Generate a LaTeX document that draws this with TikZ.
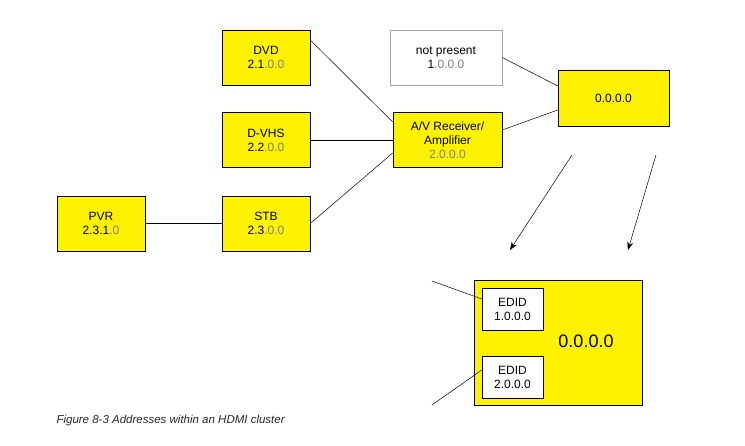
\documentclass[tikz,border=0pt]{standalone}
\usepackage{fontspec}
\setmainfont{Liberation Sans}
\usetikzlibrary{arrows.meta}
\begin{document}
\begin{tikzpicture}[x=1pt,y=-1pt,
  bx/.style={draw=black,fill=yellow,line width=0.6pt,minimum width=88pt,minimum height=55pt,align=center,font=\fontsize{12}{14}\selectfont,inner sep=0pt},
  wb/.style={draw=black,fill=white,line width=0.6pt,minimum width=61pt,minimum height=42pt,align=center,font=\fontsize{12}{14}\selectfont,inner sep=0pt},
  ln/.style={line width=0.5pt},
  ar/.style={line width=0.5pt,-{Stealth[length=8pt,width=6pt]}}]
\useasboundingbox (0,0) rectangle (745,446);
\definecolor{gt}{gray}{0.5}
\node[bx] (dvd) at (266,57.5) {DVD\\2.1\textcolor{gt}{.0.0}};
\node[bx] (dvhs) at (266,140) {D-VHS\\2.2\textcolor{gt}{.0.0}};
\node[bx] (stb) at (266,223.5) {STB\\2.3\textcolor{gt}{.0.0}};
\node[bx] (pvr) at (101,223.5) {PVR\\2.3.1\textcolor{gt}{.0}};
\node[bx,fill=white,draw=gray!70,minimum width=112pt] (np) at (446,57.5) {not present\\1\textcolor{gt}{.0.0.0}};
\node[bx,minimum width=109pt] (av) at (447.5,140) {A/V Receiver/\\Amplifier\\\textcolor{gt}{2.0.0.0}};
\node[bx,minimum width=111pt,minimum height=56pt] (root) at (613.5,98) {0.0.0.0};
\node[bx,minimum width=168pt,minimum height=125pt] (big) at (558,342.5) {};
\node[font=\fontsize{18}{20}\selectfont] (lbl) at (586,341) {0.0.0.0};
\node[wb] (e1) at (512.5,309) {EDID\\1.0.0.0};
\node[wb] (e2) at (512.5,377) {EDID\\2.0.0.0};
\draw[ln] (dvd.east|-0,40) -- (av.west|-0,122);
\draw[ln] (dvhs.east) -- (av.west|-0,140);
\draw[ln] (stb.east) -- (av.west|-0,153);
\draw[ln] (pvr.east) -- (stb.west);
\draw[ln] (np.east) -- (root.west|-0,86);
\draw[ln] (av.east|-0,130) -- (root.west|-0,110);
\coordinate (a1) at (572,155); \coordinate (a2) at (510,250);
\coordinate (b1) at (656,155); \coordinate (b2) at (628,250);
\draw[ar] (a1) -- (a2);
\draw[ar] (b1) -- (b2);
\coordinate (c1) at (432,281); \coordinate (c2) at (432,405);
\draw[ln] (c1) -- (e1.west|-0,299);
\draw[ln] (c2) -- (e2.west|-0,370);
\node[anchor=west,font=\itshape\fontsize{11.5}{13}\selectfont,text=black!85] (cap) at (53,421) {Figure 8-3 Addresses within an HDMI cluster};
\end{tikzpicture}
\end{document}
